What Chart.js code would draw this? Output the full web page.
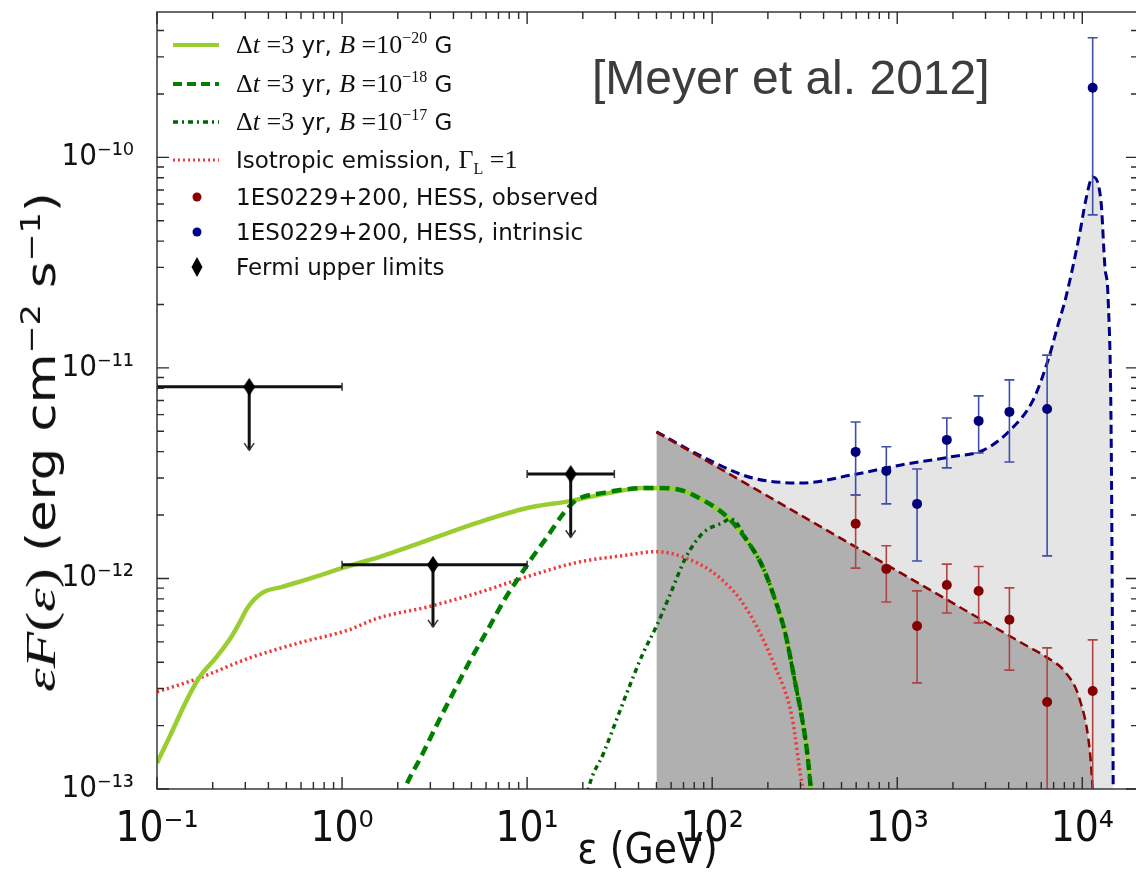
<!DOCTYPE html>
<html><head><meta charset="utf-8">
<script src="https://cdn.jsdelivr.net/npm/chart.js@4.4.1/dist/chart.umd.min.js"></script>
<style>
html,body{margin:0;padding:0;background:#fff;overflow:hidden;}
#wrap{position:relative;width:1146px;height:874px;}
#c{position:absolute;left:0;top:0;}
.row{position:absolute;left:236px;height:30px;line-height:30px;white-space:nowrap;font-family:'DejaVu Sans',sans-serif;font-size:23px;color:#111;}
.m{font-family:'Liberation Serif','DejaVu Serif',serif;font-size:26px;}
.m sup{font-size:16px;vertical-align:10px;line-height:0;}
.m sub{font-size:16px;vertical-align:-6px;line-height:0;}
#cite{position:absolute;left:592px;top:52px;font-family:'Liberation Sans',Arial,sans-serif;font-size:48px;line-height:52px;color:#3d3d3d;white-space:nowrap;}
#ytitle{position:absolute;left:41px;top:442px;white-space:nowrap;font-family:'Liberation Sans Narrow','DejaVu Sans Condensed',sans-serif;font-size:40px;line-height:44px;color:#111;transform-origin:50% 50%;}
#ytitle .mi{font-family:'Liberation Serif','DejaVu Serif',serif;font-style:italic;font-size:42px;}
#ytitle .mu{font-family:'Liberation Serif','DejaVu Serif',serif;font-size:42px;}
#ytitle sup{font-size:26px;vertical-align:15px;line-height:0;}
svg{position:absolute;left:0;top:0;}
</style></head>
<body>
<div id="wrap">
<canvas id="c" width="1146" height="874"></canvas>
<svg width="240" height="300">
<line x1="173" y1="45" x2="219" y2="45" stroke="#9acd32" stroke-width="4"/>
<line x1="173" y1="84" x2="219" y2="84" stroke="#008000" stroke-width="4" stroke-dasharray="9 5"/>
<line x1="173" y1="122" x2="219" y2="122" stroke="#006400" stroke-width="3.5" stroke-dasharray="5 4 2 4"/>
<line x1="173" y1="160" x2="219" y2="160" stroke="#f03a3a" stroke-width="3" stroke-dasharray="2 3"/>
<circle cx="197" cy="197" r="4.5" fill="#8b0000"/>
<circle cx="197" cy="232" r="4.5" fill="#00008b"/>
<polygon points="197,257 202.5,267 197,277 191.5,267" fill="#000"/>
</svg>
<div class="row" style="top:30px"><span class="m">Δ<i>t</i> =3</span> yr, <span class="m"><i>B</i> =10<sup>−20</sup></span> G</div>
<div class="row" style="top:69px"><span class="m">Δ<i>t</i> =3</span> yr, <span class="m"><i>B</i> =10<sup>−18</sup></span> G</div>
<div class="row" style="top:107px"><span class="m">Δ<i>t</i> =3</span> yr, <span class="m"><i>B</i> =10<sup>−17</sup></span> G</div>
<div class="row" style="top:145px">Isotropic emission, <span class="m">Γ<sub>L</sub> =1</span></div>
<div class="row" style="top:182px">1ES0229+200, HESS, observed</div>
<div class="row" style="top:217px">1ES0229+200, HESS, intrinsic</div>
<div class="row" style="top:252px">Fermi upper limits</div>
<div id="cite">[Meyer et al. 2012]</div>
<div id="ytitle"><span class="mi">εF</span><span class="mu">(</span><span class="mi">ε</span><span class="mu">)</span> (erg cm<sup>−2</sup> s<sup>−1</sup>)</div>
</div>
<script>
// ---- data (energy in GeV, eF(e) in erg cm^-2 s^-1) ----
const b20E = [0.1,0.117,0.145,0.17,0.21,0.252,0.279,0.308,0.37,0.474,0.721,1.0,1.39,1.57,2.91,5.4,10,17,27.9,42.4,63.7,88.9,122,157,187,219,248,281,305,325,342];
const b20F = [1.33e-13,1.77e-13,2.65e-13,3.40e-13,4.24e-13,5.27e-13,6.15e-13,7.24e-13,8.53e-13,9.12e-13,1.02e-12,1.12e-12,1.22e-12,1.26e-12,1.52e-12,1.84e-12,2.16e-12,2.33e-12,2.55e-12,2.69e-12,2.66e-12,2.36e-12,1.94e-12,1.48e-12,1.14e-12,7.91e-13,5.51e-13,3.19e-13,2.20e-13,1.53e-13,9.9e-14];
const b18E = [2.1,2.19,2.67,3.29,4.06,4.94,6.11,7.53,8.84,10.4,12.8,15.8,18.5,25.9,35.6,49.8,63.7,88.9,122,157,187,219,248,281,305,325,342];
const b18F = [9.0e-14,1.01e-13,1.42e-13,2.06e-13,2.95e-13,4.10e-13,5.69e-13,7.91e-13,9.84e-13,1.22e-12,1.57e-12,2.05e-12,2.36e-12,2.55e-12,2.66e-12,2.69e-12,2.66e-12,2.36e-12,1.94e-12,1.48e-12,1.14e-12,7.91e-13,5.51e-13,3.19e-13,2.20e-13,1.53e-13,9.9e-14];
const b17E = [21,21.5,25.9,30.4,35.6,42.4,49.8,58.5,72.1,88.9,114,126,157,187,219,248,281,305,325,342];
const b17F = [9.0e-14,1.01e-13,1.48e-13,2.13e-13,3.05e-13,4.43e-13,5.89e-13,8.17e-13,1.26e-12,1.64e-12,1.84e-12,1.92e-12,1.48e-12,1.14e-12,7.91e-13,5.51e-13,3.19e-13,2.20e-13,1.53e-13,9.9e-14];
const isoE = [0.1,0.17,0.316,0.585,1.08,1.57,2.91,5.4,10,18.5,34.4,49.8,72.1,108,151,219,270,305,317];
const isoF = [2.89e-13,3.37e-13,4.19e-13,4.94e-13,5.69e-13,6.49e-13,7.33e-13,8.53e-13,1.02e-12,1.19e-12,1.29e-12,1.34e-12,1.25e-12,1.02e-12,7.33e-13,3.80e-13,2.20e-13,1.07e-13,9.4e-14];
const obsModelE = [50,3000,5000,6368,8160,9700,10970,11380,11500];
const obsModelF = [4.97e-12,6.21e-13,4.79e-13,4.24e-13,3.56e-13,2.65e-13,1.53e-13,9.9e-14,8e-14];
const intrModelE = [50,88.9,165,305,566,1050,1949,2926,4083,5426,6535,7391,8160,9700,10450,11380,12600,13250,13800,14350,14700];
const intrModelF = [4.97e-12,3.78e-12,3.00e-12,2.84e-12,3.10e-12,3.46e-12,3.78e-12,4.07e-12,5.07e-12,7.04e-12,1.09e-11,1.60e-11,2.17e-11,4.38e-11,6.28e-11,8.07e-11,6.28e-11,3.02e-11,2.10e-11,4.0e-12,9e-14];
const hessE = [596,873,1280,1853,2754,4038,6457,11380];
const obsF  = [1.82e-12,1.11e-12,5.94e-13,9.31e-13,8.72e-13,6.36e-13,2.59e-13,2.92e-13];
const obsLo = [1.12e-12,7.73e-13,3.19e-13,6.85e-13,6.15e-13,3.67e-13,1e-14,1e-14];
const obsHi = [2.49e-12,1.43e-12,8.73e-13,1.17e-12,1.14e-12,9.02e-13,4.68e-13,5.11e-13];
const intrF  = [3.99e-12,3.24e-12,2.26e-12,4.55e-12,5.60e-12,6.18e-12,6.38e-12,2.14e-10];
const intrLo = [2.49e-12,2.26e-12,1.21e-12,3.35e-12,3.94e-12,3.57e-12,1.28e-12,5.33e-11];
const intrHi = [5.53e-12,4.22e-12,3.31e-12,5.78e-12,7.36e-12,8.77e-12,1.15e-11,3.70e-10];
const fermiE   = [0.315,3.10,17.2];
const fermiELo = [0.1,1,10];
const fermiEHi = [1,10,29.6];
const fermiF   = [8.13e-12,1.16e-12,3.13e-12];
const fermiTip = [4.07e-12,5.89e-13,1.57e-12];
const xTicks = [0.1,1,10,100,1000,10000];
const xTickLabels = ['10⁻¹','10⁰','10¹','10²','10³','10⁴'];
const yTicks = [1e-13,1e-12,1e-11,1e-10];
const yTickLabels = ['10⁻¹³','10⁻¹²','10⁻¹¹','10⁻¹⁰'];

const pts = (E,F) => E.map((e,i)=>({x:e,y:F[i]}));

// y-axis title: stretch along its length to the reference span
(function(){
  const t = document.getElementById('ytitle');
  const w = t.offsetWidth;
  t.style.transform = 'translate(-50%,-50%) rotate(-90deg) scaleX(' + (500/w) + ')';
})();

// tall diamond marker for Fermi points
const dia = document.createElement('canvas');
dia.width = 12; dia.height = 18;
(function(){const g = dia.getContext('2d'); g.fillStyle = '#000'; g.beginPath(); g.moveTo(6,0); g.lineTo(12,9); g.lineTo(6,18); g.lineTo(0,9); g.closePath(); g.fill();})();

const errPlugin = {
  id:'errbars',
  beforeDatasetDraw(chart,args){
    const ds = chart.data.datasets[args.index];
    const {ctx, chartArea:a, scales:{x,y}} = chart;
    if (!ds.errLo && !ds.limLo) return;
    ctx.save();
    ctx.beginPath(); ctx.rect(a.left,a.top,a.right-a.left,a.bottom-a.top); ctx.clip();
    if (ds.errLo){
      ctx.strokeStyle = ds.errColor; ctx.lineWidth = 1.6;
      ds.data.forEach((p,i)=>{
        const px = x.getPixelForValue(p.x), lo = y.getPixelForValue(ds.errLo[i]), hi = y.getPixelForValue(ds.errHi[i]);
        ctx.beginPath();
        ctx.moveTo(px,lo); ctx.lineTo(px,hi);
        ctx.moveTo(px-5,lo); ctx.lineTo(px+5,lo);
        ctx.moveTo(px-5,hi); ctx.lineTo(px+5,hi);
        ctx.stroke();
      });
    }
    if (ds.limLo){
      ds.data.forEach((p,i)=>{
        const px = x.getPixelForValue(p.x), py = y.getPixelForValue(p.y);
        const x0 = x.getPixelForValue(ds.limLo[i]), x1 = x.getPixelForValue(ds.limHi[i]);
        const tip = y.getPixelForValue(ds.limTip[i]);
        ctx.strokeStyle = '#111'; ctx.lineWidth = 3;
        ctx.beginPath(); ctx.moveTo(x0,py); ctx.lineTo(x1,py); ctx.moveTo(px,py); ctx.lineTo(px,tip); ctx.stroke();
        ctx.lineWidth = 1.5; ctx.strokeStyle = '#333';
        ctx.beginPath();
        ctx.moveTo(x0,py-4); ctx.lineTo(x0,py+4); ctx.moveTo(x1,py-4); ctx.lineTo(x1,py+4);
        ctx.moveTo(px-5,tip-7); ctx.lineTo(px,tip); ctx.lineTo(px+5,tip-7);
        ctx.stroke();
      });
    }
    ctx.restore();
  }
};

const framePlugin = {
  id:'frame',
  afterDraw(chart){
    const {ctx, chartArea:a, scales:{x,y}} = chart;
    ctx.save();
    ctx.strokeStyle = '#2b2b2b'; ctx.lineWidth = 1.4;
    ctx.strokeRect(a.left, a.top, a.right-a.left, a.bottom-a.top);
    ctx.beginPath();
    for (let d=-2; d<=5; d++) for (let m=1; m<=9; m++){
      const v = m*Math.pow(10,d);
      if (v>=x.min && v<=x.max){
        const px = x.getPixelForValue(v), L = m===1?12:7;
        ctx.moveTo(px,a.bottom); ctx.lineTo(px,a.bottom-L);
        ctx.moveTo(px,a.top); ctx.lineTo(px,a.top+L);
      }
    }
    for (let d=-14; d<=-9; d++) for (let m=1; m<=9; m++){
      const v = m*Math.pow(10,d);
      if (v>=y.min*0.999 && v<=y.max){
        const py = y.getPixelForValue(v), L = m===1?12:7;
        ctx.moveTo(a.left,py); ctx.lineTo(a.left+L,py);
        ctx.moveTo(a.right,py); ctx.lineTo(a.right-L,py);
      }
    }
    ctx.stroke();
    ctx.restore();
  }
};

new Chart(document.getElementById('c'), {
  type:'line',
  data:{datasets:[
    {label:'Fermi upper limits', type:'scatter', data:pts(fermiE,fermiF), pointStyle:dia, pointRadius:8, backgroundColor:'#000', borderColor:'#000', borderWidth:0,
     limLo:fermiELo, limHi:fermiEHi, limTip:fermiTip},
    {label:'1ES0229+200, HESS, intrinsic', type:'scatter', data:pts(hessE,intrF), pointRadius:5, backgroundColor:'#00007a', borderColor:'#00007a', borderWidth:0,
     errLo:intrLo, errHi:intrHi, errColor:'#3f4fa8'},
    {label:'1ES0229+200, HESS, observed', type:'scatter', data:pts(hessE,obsF), pointRadius:5, backgroundColor:'#850000', borderColor:'#850000', borderWidth:0,
     errLo:obsLo, errHi:obsHi, errColor:'#b04444'},
    {label:'Δt=3 yr, B=1e-17 G', data:pts(b17E,b17F), borderColor:'#006400', borderWidth:3.5, borderDash:[5,4,2,4], pointRadius:0, fill:false, cubicInterpolationMode:'monotone'},
    {label:'Δt=3 yr, B=1e-18 G', data:pts(b18E,b18F), borderColor:'#008000', borderWidth:4.5, borderDash:[10,6], pointRadius:0, fill:false, cubicInterpolationMode:'monotone'},
    {label:'Δt=3 yr, B=1e-20 G', data:pts(b20E,b20F), borderColor:'#9acd32', borderWidth:4.5, pointRadius:0, fill:false, cubicInterpolationMode:'monotone'},
    {label:'Isotropic emission', data:pts(isoE,isoF), borderColor:'#f03a3a', borderWidth:3.5, borderDash:[2.2,3], pointRadius:0, fill:false, cubicInterpolationMode:'monotone'},
    {label:'observed model', data:pts(obsModelE,obsModelF), borderColor:'#8b0000', borderWidth:2.5, borderDash:[9,5], pointRadius:0, fill:'start', backgroundColor:'#b0b0b0', cubicInterpolationMode:'monotone'},
    {label:'intrinsic model', data:pts(intrModelE,intrModelF), borderColor:'#00008b', borderWidth:3, borderDash:[9,5], pointRadius:0, fill:'start', backgroundColor:'#e5e5e5', cubicInterpolationMode:'monotone'}
  ]},
  options:{
    responsive:false, devicePixelRatio:1, animation:false,
    layout:{padding:{top:12,right:0,left:0,bottom:0}},
    plugins:{legend:{display:false}, tooltip:{enabled:false}, filler:{drawTime:'beforeDatasetsDraw'}},
    scales:{
      x:{type:'logarithmic', position:'bottom', min:0.1, max:2e4,
         grid:{display:false}, border:{display:false},
         afterBuildTicks:s=>{s.ticks = xTicks.map(v=>({value:v}));},
         afterFit:s=>{s.height = 85; s.paddingLeft = 0; s.paddingRight = 0;},
         ticks:{autoSkip:false, maxRotation:0, padding:8, color:'#111',
                font:{family:"'Liberation Sans Narrow','DejaVu Sans Condensed',sans-serif", size:42},
                callback:v=>xTickLabels[xTicks.indexOf(v)]},
         title:{display:true, text:'ε (GeV)', color:'#111', padding:{top:0,bottom:1},
                font:{family:"'Liberation Sans Narrow','DejaVu Sans Condensed',sans-serif", size:42, lineHeight:1}}},
      y:{type:'logarithmic', position:'left', min:1e-13, max:4.9e-10,
         grid:{display:false}, border:{display:false},
         afterBuildTicks:s=>{s.ticks = yTicks.map(v=>({value:v}));},
         afterFit:s=>{s.width = 157; s.paddingTop = 0; s.paddingBottom = 0;},
         ticks:{autoSkip:false, padding:15, color:'#111',
                font:{family:"'DejaVu Sans Condensed','DejaVu Sans',sans-serif", size:31},
                callback:v=>yTickLabels[yTicks.findIndex(t=>Math.abs(t-v)/t<1e-6)]},
         title:{display:false}}
    }
  },
  plugins:[errPlugin, framePlugin]
});
</script>
</body></html>
